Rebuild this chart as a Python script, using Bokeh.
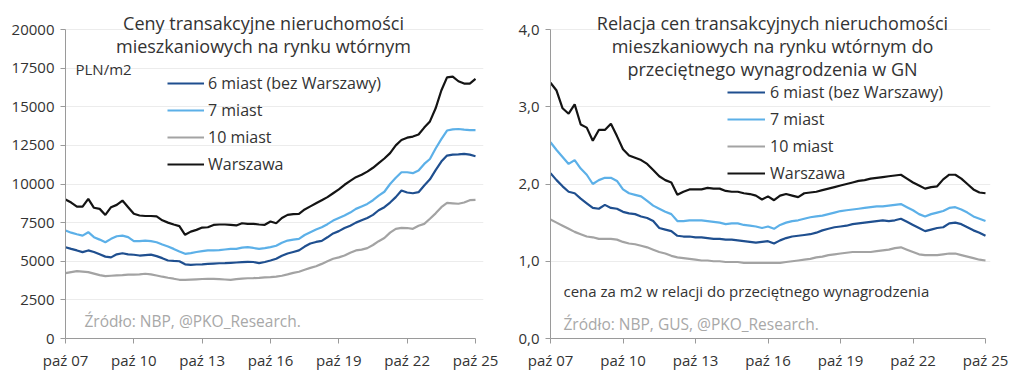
from bokeh.plotting import figure
from bokeh.layouts import row
from bokeh.models import Range1d, FixedTicker, Legend, LegendItem, Label
from bokeh.embed import file_html
from bokeh.resources import INLINE

# quarterly data, Q4 2007 (paź 07) .. Q4 2025 (paź 25)
years = [f"{y:02d}" for y in range(7, 26)]
tick_labels = ["paź " + years[k] for k in range(0, 19, 3)]
tick_pos = [12 * k for k in range(7)]

series_names = ["6 miast (bez Warszawy)", "7 miast", "10 miast", "Warszawa"]

# PLN/m2
price_6 = [5910, 5800, 5700, 5590, 5700, 5600, 5450, 5300, 5250, 5450, 5520, 5450,
           5420, 5370, 5400, 5430, 5330, 5200, 5050, 5020, 5000, 4800, 4770, 4790,
           4800, 4830, 4850, 4870, 4880, 4900, 4920, 4940, 4960, 4950, 4880, 4950,
           5050, 5160, 5350, 5500, 5600, 5700, 5950, 6150, 6250, 6320, 6550, 6800,
           6950, 7150, 7300, 7500, 7650, 7800, 8000, 8300, 8500, 8800, 9150, 9580,
           9450, 9400, 9470, 9900, 10300, 10900, 11450, 11840, 11900, 11920, 11950, 11900,
           11800]
price_7 = [6990, 6850, 6750, 6660, 6880, 6560, 6400, 6230, 6450, 6620, 6660, 6560,
           6300, 6300, 6340, 6300, 6230, 6080, 5950, 5800, 5630, 5480, 5530, 5600,
           5650, 5700, 5700, 5720, 5760, 5800, 5800, 5880, 5910, 5860, 5800, 5850,
           5910, 6000, 6200, 6340, 6400, 6450, 6700, 6880, 7050, 7200, 7400, 7630,
           7800, 7960, 8150, 8390, 8550, 8710, 8950, 9250, 9500, 10000, 10400, 10760,
           10760, 10700, 10870, 11300, 11620, 12300, 12900, 13460, 13540, 13560, 13520, 13490,
           13490]
price_10 = [4230, 4300, 4360, 4330, 4300, 4200, 4100, 4040, 4060, 4080, 4100, 4140,
            4140, 4150, 4190, 4150, 4080, 4000, 3930, 3870, 3800, 3790, 3810, 3830,
            3850, 3860, 3860, 3840, 3820, 3800, 3840, 3880, 3900, 3910, 3930, 3960,
            3970, 4010, 4060, 4150, 4250, 4320, 4450, 4570, 4680, 4830, 5000, 5160,
            5250, 5370, 5550, 5700, 5750, 5850, 6050, 6300, 6500, 6850, 7100, 7160,
            7150, 7100, 7300, 7420, 7750, 8100, 8500, 8780, 8750, 8720, 8800, 8950,
            8970]
price_waw = [9000, 8800, 8540, 8540, 9040, 8460, 8390, 8000, 8500, 8650, 8930, 8500,
             8070, 7960, 7930, 7930, 7900, 7650, 7500, 7380, 7270, 6710, 6920, 7030,
             7180, 7200, 7350, 7380, 7380, 7350, 7320, 7460, 7420, 7420, 7380, 7360,
             7570, 7460, 7800, 8000, 8050, 8070, 8350, 8550, 8750, 8950, 9150, 9400,
             9650, 9950, 10200, 10440, 10600, 10800, 11050, 11350, 11650, 12000, 12500, 12850,
             13000, 13070, 13200, 13650, 14050, 14900, 16050, 16900, 16950, 16650, 16500, 16500,
             16800]

# price per m2 relative to average wage
ratio_6 = [2.14, 2.05, 1.97, 1.90, 1.88, 1.81, 1.75, 1.69, 1.68, 1.73, 1.69, 1.68,
           1.64, 1.62, 1.61, 1.58, 1.56, 1.52, 1.43, 1.41, 1.39, 1.33, 1.32, 1.32,
           1.31, 1.31, 1.30, 1.29, 1.29, 1.28, 1.28, 1.27, 1.26, 1.25, 1.24, 1.25,
           1.26, 1.23, 1.27, 1.30, 1.32, 1.33, 1.34, 1.35, 1.37, 1.40, 1.42, 1.44,
           1.45, 1.46, 1.48, 1.49, 1.50, 1.51, 1.52, 1.53, 1.52, 1.53, 1.55, 1.51,
           1.47, 1.43, 1.39, 1.41, 1.43, 1.44, 1.49, 1.50, 1.48, 1.44, 1.40, 1.37,
           1.33]
ratio_7 = [2.54, 2.44, 2.35, 2.26, 2.31, 2.20, 2.12, 2.00, 2.05, 2.08, 2.08, 2.04,
           1.93, 1.88, 1.86, 1.84, 1.78, 1.72, 1.68, 1.64, 1.61, 1.52, 1.52, 1.53,
           1.53, 1.53, 1.52, 1.51, 1.50, 1.48, 1.49, 1.49, 1.47, 1.46, 1.45, 1.43,
           1.45, 1.42, 1.47, 1.50, 1.52, 1.53, 1.55, 1.57, 1.58, 1.59, 1.61, 1.63,
           1.65, 1.66, 1.67, 1.68, 1.69, 1.70, 1.71, 1.71, 1.72, 1.73, 1.74, 1.70,
           1.66, 1.61, 1.58, 1.61, 1.63, 1.65, 1.69, 1.70, 1.67, 1.63, 1.58, 1.55,
           1.52]
ratio_10 = [1.54, 1.50, 1.46, 1.42, 1.38, 1.35, 1.32, 1.31, 1.29, 1.29, 1.29, 1.28,
            1.25, 1.23, 1.22, 1.20, 1.18, 1.15, 1.12, 1.10, 1.07, 1.05, 1.04, 1.03,
            1.02, 1.01, 1.01, 1.00, 1.00, 0.99, 0.99, 0.99, 0.98, 0.98, 0.98, 0.98,
            0.98, 0.98, 0.98, 0.99, 1.00, 1.01, 1.02, 1.03, 1.05, 1.06, 1.08, 1.09,
            1.10, 1.11, 1.12, 1.12, 1.12, 1.12, 1.13, 1.14, 1.15, 1.17, 1.18, 1.15,
            1.12, 1.09, 1.08, 1.08, 1.08, 1.09, 1.10, 1.10, 1.08, 1.06, 1.04, 1.02,
            1.01]
ratio_waw = [3.31, 3.21, 2.98, 2.91, 3.03, 2.77, 2.73, 2.56, 2.70, 2.70, 2.78, 2.62,
             2.45, 2.37, 2.34, 2.31, 2.26, 2.18, 2.10, 2.05, 2.02, 1.86, 1.90, 1.93,
             1.93, 1.93, 1.95, 1.94, 1.94, 1.91, 1.90, 1.90, 1.88, 1.87, 1.85, 1.80,
             1.84, 1.79, 1.85, 1.87, 1.85, 1.83, 1.88, 1.89, 1.90, 1.92, 1.94, 1.96,
             1.98, 2.00, 2.02, 2.04, 2.05, 2.07, 2.08, 2.09, 2.10, 2.11, 2.12, 2.07,
             2.02, 1.98, 1.94, 1.96, 1.97, 2.06, 2.12, 2.12, 2.07, 2.00, 1.93, 1.89,
             1.88]

left_ticks = [0, 2500, 5000, 7500, 10000, 12500, 15000, 17500, 20000]
right_ticks = [0.0, 1.0, 2.0, 3.0, 4.0]
right_tick_labels = ["0,0", "1,0", "2,0", "3,0", "4,0"]

colors = ["#1f4f8f", "#5cb0e8", "#a3a3a3", "#141414"]
FONT = "Open Sans"
TXT = "#333333"


def make_fig(width, border_left, border_right, px_per_unit, ymax,
             yticks, ylabels, x_end):
    frame_h = 330
    p = figure(width=width, height=373, output_backend="svg", toolbar_location=None,
               min_border_left=border_left, min_border_right=border_right,
               min_border_top=8, min_border_bottom=35,
               x_range=Range1d(0, x_end), y_range=Range1d(0, frame_h / px_per_unit))
    p.outline_line_color = None
    p.background_fill_color = "white"
    p.border_fill_color = "white"
    p.xaxis.ticker = FixedTicker(ticks=tick_pos)
    p.xaxis.major_label_overrides = {t: l for t, l in zip(tick_pos, tick_labels)}
    p.yaxis.ticker = FixedTicker(ticks=yticks)
    p.yaxis.major_label_overrides = {t: l for t, l in zip(yticks, ylabels)}
    p.yaxis.bounds = (0, ymax)
    p.xaxis.bounds = (0, 72)
    for ax in (p.xaxis, p.yaxis):
        ax.axis_line_color = "#9a9a9a"
        ax.axis_line_width = 1
        ax.major_tick_line_color = "#9a9a9a"
        ax.major_tick_out = 5
        ax.major_tick_in = 0
        ax.minor_tick_line_color = None
        ax.major_label_text_font = FONT
        ax.major_label_text_font_size = "15px"
        ax.major_label_text_color = TXT
    p.xaxis.major_label_standoff = 6
    p.yaxis.major_label_standoff = 6
    p.xgrid.grid_line_color = None
    p.ygrid.grid_line_color = "#ececec"
    p.ygrid.grid_line_width = 1
    p.ygrid.bounds = (0, 72)
    return p


def add_text(p, x, y, text, size="15px", color=TXT, align="left"):
    p.add_layout(Label(x=x, y=y, x_units="screen", y_units="screen", text=text,
                       text_font=FONT, text_font_size=size, text_color=color,
                       text_align=align, text_baseline="middle"))


# ---------- left ----------
x_idx = list(range(len(price_waw)))
p1 = make_fig(508, 65, 25, 309 / 20000, 20000, left_ticks,
              [str(t) for t in left_ticks], 418 / (410 / 72))
r1 = []
for vals, c in zip([price_6, price_7, price_10, price_waw], colors):
    r1.append(p1.line(x_idx, vals, line_color=c, line_width=2.2))
leg1 = Legend(items=[LegendItem(label=n, renderers=[r]) for n, r in zip(series_names, r1)],
              location=(102, 163), glyph_width=37, glyph_height=20, label_height=20,
              spacing=5, label_standoff=4, padding=0, margin=0,
              border_line_color=None, background_fill_alpha=0,
              label_text_font=FONT, label_text_font_size="16px", label_text_color=TXT)
p1.add_layout(leg1)
# screen y measured from frame bottom (frame bottom = value 0)
add_text(p1, 198, 338 - 22, "Ceny transakcyjne nieruchomości", "18px", align="center")
add_text(p1, 198, 338 - 45, "mieszkaniowych na rynku wtórnym", "18px", align="center")
add_text(p1, 10, 338 - 68, "PLN/m2", "15px")
add_text(p1, 19, 338 - 320, "Źródło: NBP, @PKO_Research.", "15.5px", color="#a8a8a8")

# ---------- right ----------
p2 = make_fig(508, 42, 26, 77.25, 4.0, right_ticks, right_tick_labels,
              440 / (435 / 72))
r2 = []
for vals, c in zip([ratio_6, ratio_7, ratio_10, ratio_waw], colors):
    r2.append(p2.line(x_idx, vals, line_color=c, line_width=2.2))
leg2 = Legend(items=[LegendItem(label=n, renderers=[r]) for n, r in zip(series_names, r2)],
              location=(177, 154), glyph_width=38, glyph_height=20, label_height=20,
              spacing=5, label_standoff=5, padding=0, margin=0,
              border_line_color=None, background_fill_alpha=0,
              label_text_font=FONT, label_text_font_size="16px", label_text_color=TXT)
p2.add_layout(leg2)
add_text(p2, 222, 338 - 22, "Relacja cen transakcyjnych nieruchomości", "18px", align="center")
add_text(p2, 222, 338 - 45, "mieszkaniowych na rynku wtórnym do", "18px", align="center")
add_text(p2, 222, 338 - 68, "przeciętnego wynagrodzenia w GN", "18px", align="center")
add_text(p2, 13, 338 - 290, "cena za m2 w relacji do przeciętnego wynagrodzenia", "15px")
add_text(p2, 13, 338 - 323, "Źródło: NBP, GUS, @PKO_Research.", "15.5px", color="#a8a8a8")

layout = row(p1, p2, spacing=0)
open("out.html", "w").write(file_html(layout, INLINE))
